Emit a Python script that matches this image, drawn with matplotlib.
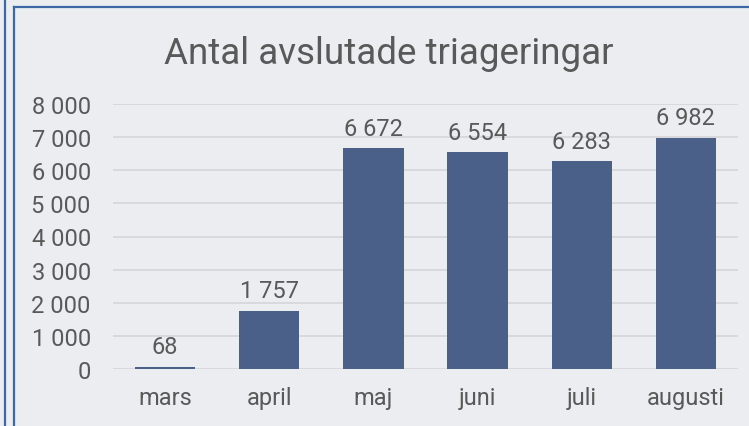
import matplotlib
matplotlib.use("Agg")
import matplotlib.pyplot as plt
from matplotlib.lines import Line2D
from matplotlib.ticker import FuncFormatter

categories = ["mars", "april", "maj", "juni", "juli", "augusti"]
values = [68, 1757, 6672, 6554, 6283, 6982]
yticks = [0, 1000, 2000, 3000, 4000, 5000, 6000, 7000, 8000]

def fmt(v):
    return f"{int(v):,}".replace(",", " ")

plt.rcParams['font.family'] = ['Roboto', 'DejaVu Sans']
bg = "#ECEDF0"
txt = "#595959"
W, H = 749, 427
fig = plt.figure(figsize=(W/100, H/100), dpi=100, facecolor=bg)
ax = fig.add_axes([113/W, 1-370/H, (738-113)/W, (370-105)/H], facecolor=bg)

x = range(len(categories))
ax.bar(x, values, width=0.58, color="#4A6088", zorder=3)
for xi, v in zip(x, values):
    ax.annotate(fmt(v), (xi, v), xytext=(0, 6), textcoords="offset points",
                ha="center", va="bottom", fontsize=17, color=txt)

ax.set_xlim(-0.5, len(categories) - 0.5)
ax.set_ylim(0, 8000)
ax.set_yticks(yticks)
ax.yaxis.set_major_formatter(FuncFormatter(lambda v, p: fmt(v)))
ax.set_xticks(list(x))
ax.set_xticklabels(categories)
ax.tick_params(axis="both", length=0, labelsize=17, labelcolor=txt)
ax.tick_params(axis="y", pad=16)
ax.tick_params(axis="x", pad=12)
ax.grid(axis="y", color="#D5D6D8", linewidth=1.2, zorder=0)
for s in ax.spines.values():
    s.set_visible(False)

fig.text(389/W, 1-64/H, "Antal avslutade triageringar", ha="center", va="baseline",
         fontsize=26.5, color=txt)

border = "#3D68A6"
fig.add_artist(Line2D([5/W, 5/W], [0, 1], color=border, lw=1.6, transform=fig.transFigure))
fig.add_artist(Line2D([14/W, 14/W], [0, 1-8/H], color=border, lw=1.6, transform=fig.transFigure))
fig.add_artist(Line2D([14/W, 1], [1-8/H, 1-8/H], color=border, lw=1.6, transform=fig.transFigure))

fig.savefig("out.png", dpi=100, facecolor=bg)
